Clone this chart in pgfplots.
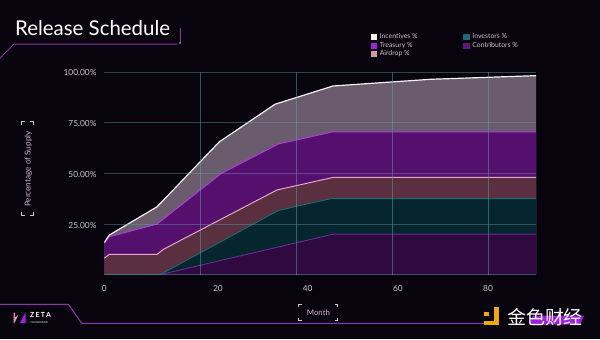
\documentclass[border=0pt]{standalone}
\usepackage{fontspec}
\setmainfont{Lato}
\newfontfamily\cjk{Noto Sans CJK SC}
\usepackage{pgfplots}
\usepackage{pgfplotstable}
\pgfplotsset{compat=1.18}
\definecolor{bg}{HTML}{08040E}
\definecolor{deco}{HTML}{8E34B0}
\definecolor{fInc}{HTML}{6A5C6C}
\definecolor{fTre}{HTML}{55106E}
\definecolor{fAir}{HTML}{5A2F40}
\definecolor{fInv}{HTML}{05262F}
\definecolor{fCon}{HTML}{2F0A40}
\definecolor{lInc}{HTML}{F2F0F4}
\definecolor{lTre}{HTML}{A83EDA}
\definecolor{lAir}{HTML}{E6A6C6}
\definecolor{lInv}{HTML}{1B6A6C}
\definecolor{lCon}{HTML}{6A2A90}
\definecolor{sInc}{HTML}{F4F0F4}
\definecolor{sTre}{HTML}{A020E0}
\definecolor{sAir}{HTML}{D898A8}
\definecolor{sInv}{HTML}{1A6878}
\definecolor{sCon}{HTML}{5A1A78}
\definecolor{tick}{HTML}{C8C2CC}
\definecolor{lab}{HTML}{D8B4CA}
\definecolor{gridc}{HTML}{5FA0B0}
\definecolor{brk}{HTML}{C8C8D0}
\definecolor{gold}{HTML}{EAAA10}

% cumulative (stacked) boundaries, percent of supply
\pgfplotstableread{
x y
0 15.8
1 19.5
11 33.5
24 65.6
35.6 84.1
47.7 93.1
68 96.4
90 98.2
}\incentives
\pgfplotstableread{
x y
0 15.8
1 18.7
11 25
24.4 50
36.3 64.5
47.7 70.5
90 70.5
}\treasury
\pgfplotstableread{
x y
0 8.1
1 10
11 10
12.3 12.5
36 41.8
47.7 48
90 48
}\airdrop
\pgfplotstableread{
x y
0 0
11.6 0
36.3 31.7
47.2 37.5
90 37.5
}\investors
\pgfplotstableread{
x y
0 0
11.6 0
47.7 20
90 20
}\contributors

\begin{document}
\begin{tikzpicture}
\begin{scope}[x=1bp,y=1bp]
\fill[bg] (0,0) rectangle (600,339);
% title and decoration
\node[anchor=base west, inner sep=0, text=white] at (15,304) {\fontsize{20.5}{22}\selectfont Release Schedule};
\draw[deco, line width=1bp] (0,281) -- (14,295) -- (177,295);
\draw[deco, line width=1bp] (180,296) -- (180,311);
\fill[gridc] (180,296) circle (1.2);
% bottom decoration
\draw[deco, line width=1bp] (0,34.7) -- (68.3,34.7) -- (81.7,15.7) -- (484,15.7);
% ZETA logo
\fill[sAir] (13.5,26.5) -- (15.2,26.5) -- (15.2,21.5) -- (18.5,24.5) -- (14.5,16) -- (13.5,16) -- cycle;
\fill[sTre] (20,16) -- (25.5,27) -- (25.5,16) -- cycle;
\node[anchor=base west, inner sep=0, text=white] at (30,21.5) {\fontsize{7}{7}\selectfont\bfseries Z\,E\,T\,A};
\node[anchor=base west, inner sep=0, text=white] at (30.5,15.8) {\fontsize{2.6}{3}\selectfont FOUNDATION};
% watermark
\fill[gold] (484,23) rectangle (488.5,27.5);
\fill[gold] (494,14) rectangle (498.5,32);
\fill[gold] (484,14) rectangle (498.5,18);
\fill[sTre] (529,14.5) -- (580,14.5) -- (584,23.5) -- (533,23.5) -- cycle;
\node[anchor=base west, inner sep=0, text=white] at (507,15) {\cjk\fontsize{19}{20}\selectfont 金色财经};
\end{scope}
\begin{axis}[
  at={(104.3bp,64.3bp)}, anchor=south west,
  scale only axis, width=431.7bp, height=202.7bp,
  xmin=0, xmax=90, ymin=0, ymax=100,
  axis on top,
  axis line style={draw=none},
  major tick length=0,
  xtick={20,40,60,80}, xticklabels={,,,},
  extra x ticks={0,23.7,42.4,61.2,80},
  extra x tick labels={0,20,40,60,80},
  extra x tick style={grid=none},
  ytick={0,25,50,75,100},
  yticklabels={,25.00\%,50.00\%,75.00\%,100.00\%},
  grid=major,
  x grid style={gridc, opacity=0.5, line width=0.8bp},
  y grid style={gridc, opacity=0.42, line width=0.8bp},
  tick label style={text=tick, font=\fontsize{8.4}{9}\selectfont},
  yticklabel style={inner sep=0, xshift=-7.6bp, yshift=-1bp},
  xticklabel style={inner sep=0, yshift=-10.2bp},
  /pgf/number format/assume math mode=true,
  xlabel={Month},
  xlabel style={at={(axis description cs:0.496,-0.1885)}, anchor=center, text=lab, font=\fontsize{7.8}{8}\selectfont},
  ylabel={Percentage of Supply},
  ylabel style={at={(axis description cs:-0.176,0.521)}, anchor=center, text=lab, font=\fontsize{8.2}{9}\selectfont},
  legend columns=2,
  legend style={at={(axis description cs:0.617,1.194)}, anchor=north west, draw=none, fill=none, text=tick,
    font=\fontsize{6.9}{7}\selectfont, inner sep=0pt, row sep=0.6bp,
    nodes={inner sep=0.8bp, text height=5bp, text depth=1.4bp},
    /tikz/column 1/.style={column sep=2.4bp},
    /tikz/column 2/.style={column sep=45bp},
    /tikz/column 3/.style={column sep=2.4bp}},
  legend cell align=left,
]
\addplot[fill=fInc, draw=none, forget plot] table {\incentives} \closedcycle;
\addplot[fill=fTre, draw=none, forget plot] table {\treasury} \closedcycle;
\addplot[fill=fAir, draw=none, forget plot] table {\airdrop} \closedcycle;
\addplot[fill=fInv, draw=none, forget plot] table {\investors} \closedcycle;
\addplot[fill=fCon, draw=none, forget plot] table {\contributors} \closedcycle;
\addplot[lCon, line width=0.9bp, forget plot] table {\contributors};
\addplot[lInv, line width=0.9bp, forget plot] table {\investors};
\addplot[lAir, line width=1bp, forget plot] table {\airdrop};
\addplot[lTre, line width=1bp, forget plot] table {\treasury};
\addplot[lInc, line width=1.2bp, forget plot] table {\incentives};
\addlegendimage{legend image code/.code={\fill[sInc] (0,-2.6bp) rectangle (5.3bp,2.7bp);}}
\addlegendentry{Incentives \%}
\addlegendimage{legend image code/.code={\fill[sInv] (0,-2.6bp) rectangle (5.3bp,2.7bp);}}
\addlegendentry{Investors \%}
\addlegendimage{legend image code/.code={\fill[sTre] (0,-2.6bp) rectangle (5.3bp,2.7bp);}}
\addlegendentry{Treasury \%}
\addlegendimage{legend image code/.code={\fill[sCon] (0,-2.6bp) rectangle (5.3bp,2.7bp);}}
\addlegendentry{Contributors \%}
\addlegendimage{legend image code/.code={\fill[sAir] (0,-2.6bp) rectangle (5.3bp,2.7bp);}}
\addlegendentry{Airdrop \%}
\end{axis}
\begin{scope}[x=1bp,y=1bp]
% brackets around axis labels
\begin{scope}[brk, line width=0.6bp]
\draw (21.7,214.3) -- (21.7,217.3) -- (24.7,217.3);
\draw (30.3,217.3) -- (33.3,217.3) -- (33.3,214.3);
\draw (21.7,126.7) -- (21.7,123.7) -- (24.7,123.7);
\draw (30.3,123.7) -- (33.3,123.7) -- (33.3,126.7);
\draw (301.5,34.6) -- (298.5,34.6) -- (298.5,31.6);
\draw (298.5,21.5) -- (298.5,18.5) -- (301.5,18.5);
\draw (334.5,34.6) -- (337.5,34.6) -- (337.5,31.6);
\draw (337.5,21.5) -- (337.5,18.5) -- (334.5,18.5);
\end{scope}
\pgfresetboundingbox
\path[use as bounding box] (0,0) rectangle (600,339);
\end{scope}
\end{tikzpicture}
\end{document}
